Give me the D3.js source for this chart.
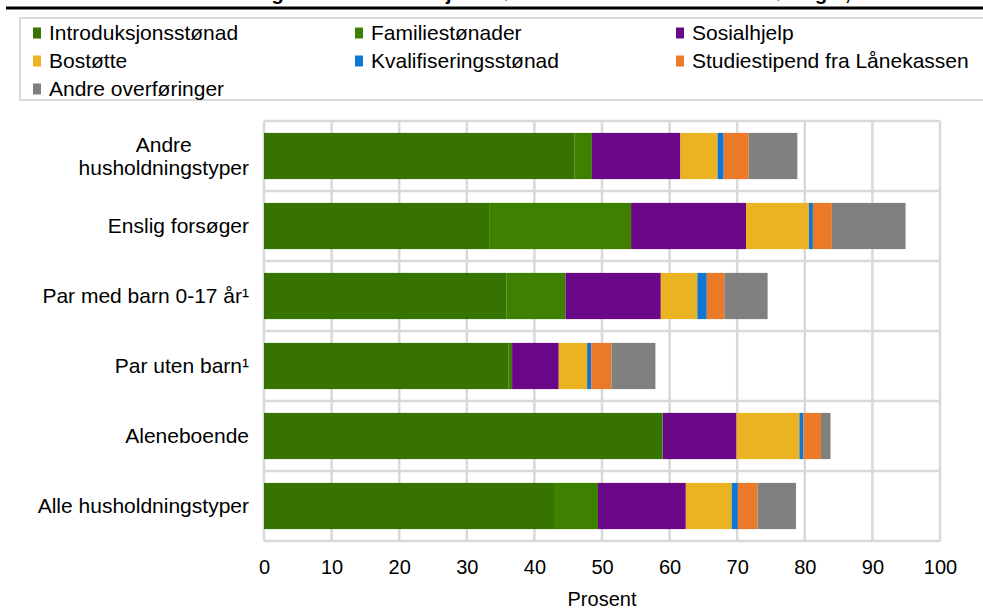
<!DOCTYPE html>
<html>
<head>
<meta charset="utf-8">
<script src="https://cdn.jsdelivr.net/npm/d3@7"></script>
<style>
body { margin: 0; background: #fff; }
svg { display: block; font-family: "Liberation Sans", Arial, sans-serif; }
</style>
</head>
<body>
<svg id="chart" width="983" height="610"></svg>
<script>
const categories = ["Andre\nhusholdningstyper", "Enslig forsøger", "Par med barn 0-17 år¹", "Par uten barn¹", "Aleneboende", "Alle husholdningstyper"];
const seriesNames = ["Introduksjonsstønad", "Familiestønader", "Sosialhjelp", "Bostøtte", "Kvalifiseringsstønad", "Studiestipend fra Lånekassen", "Andre overføringer"];
const seriesColors = ["#377300", "#3e8000", "#690787", "#ebb221", "#0f77d3", "#eb7a28", "#808080"];
const introduksjonsstonad = [45.9, 33.3, 35.9, 36.2, 58.9, 42.9];
const familiestonader     = [2.6, 21.0, 8.7, 0.5, 0.1, 6.5];
const sosialhjelp         = [13.1, 17.0, 14.1, 6.9, 10.9, 13.0];
const bostotte            = [5.5, 9.3, 5.4, 4.2, 9.3, 6.8];
const kvalifisering       = [0.9, 0.6, 1.4, 0.6, 0.6, 0.9];
const studiestipend       = [3.7, 2.8, 2.6, 3.0, 2.6, 2.9];
const andreOverforinger   = [7.2, 10.9, 6.4, 6.5, 1.4, 5.7];
const xTicks = [0, 10, 20, 30, 40, 50, 60, 70, 80, 90, 100];
const axisTitle = "Prosent";
const titleText = "Andel husholdninger med introduksjonsstønad som mottok ulike overføringer, etter husholdningstype";

const seriesValues = [introduksjonsstonad, familiestonader, sosialhjelp, bostotte, kvalifisering, studiestipend, andreOverforinger];
const rows = categories.map((c, i) => {
  const r = { cat: c };
  seriesNames.forEach((s, j) => r[s] = seriesValues[j][i]);
  return r;
});
const stacked = d3.stack().keys(seriesNames)(rows);

const svg = d3.select("#chart");
const x = d3.scaleLinear().domain([0, 100]).range([264, 940]);
const y = d3.scaleBand().domain(categories).range([121, 541]).paddingInner(0.34).paddingOuter(0.17);
const color = d3.scaleOrdinal().domain(seriesNames).range(seriesColors);

// clipped title (only descenders visible, as in the reference) and rule
svg.append("text").attr("x", 590).attr("y", -0.5).attr("text-anchor", "middle")
  .attr("font-size", 20).attr("font-weight", "bold").attr("fill", "#000").text(titleText);
svg.append("line").attr("x1", 6).attr("x2", 983).attr("y1", 8).attr("y2", 8)
  .attr("stroke", "#000").attr("stroke-width", 3);

// legend box
svg.append("rect").attr("x", 20).attr("y", 18).attr("width", 990).attr("height", 82)
  .attr("fill", "none").attr("stroke", "#d9d9d9").attr("stroke-width", 2);
const legendCols = [33, 355, 676];
const legendRows = [33, 61, 89];
const lg = svg.append("g").selectAll("g").data(seriesNames).join("g")
  .attr("transform", (d, i) => `translate(${legendCols[i % 3]},${legendRows[Math.floor(i / 3)]})`);
lg.append("rect").attr("x", 0).attr("y", -5.5).attr("width", 8).attr("height", 11).attr("fill", d => color(d));
lg.append("text").attr("x", 16).attr("y", 0).attr("dy", "0.35em").attr("font-size", 21)
  .attr("fill", "#000").text(d => d);

// gridlines
const grid = svg.append("g");
grid.selectAll("line.v").data(xTicks).join("line").attr("class", "v")
  .attr("x1", d => x(d)).attr("x2", d => x(d)).attr("y1", 121).attr("y2", 541)
  .attr("stroke", "#d9d9d9").attr("stroke-width", 2.5);
const bounds = categories.map(c => y(c) - y.step() * y.paddingOuter()).concat([541]);
grid.selectAll("line.h").data(bounds).join("line").attr("class", "h")
  .attr("x1", x(0)).attr("x2", x(100)).attr("y1", d => d).attr("y2", d => d)
  .attr("stroke", "#d9d9d9").attr("stroke-width", 2.5);

// bars
svg.append("g").selectAll("g").data(stacked).join("g")
  .attr("fill", d => color(d.key))
  .selectAll("rect").data(d => d).join("rect")
  .attr("x", d => x(d[0])).attr("width", d => Math.max(0, x(d[1]) - x(d[0])))
  .attr("y", d => y(d.data.cat)).attr("height", y.bandwidth());

// x axis labels
const xAxis = svg.append("g").attr("transform", "translate(0,567)")
  .call(d3.axisBottom(x).tickValues(xTicks).tickSize(0).tickPadding(0));
xAxis.select(".domain").remove();
xAxis.selectAll("text").attr("font-size", 20).attr("fill", "#000")
  .attr("font-family", "Liberation Sans, Arial, sans-serif").attr("dy", "0.35em").attr("y", 0);
svg.append("text").attr("x", (x(0) + x(100)) / 2).attr("y", 599).attr("dy", "0.35em")
  .attr("text-anchor", "middle").attr("font-size", 20).attr("fill", "#000").text(axisTitle);

// category labels
const labelRight = 249;
const lineH = 23;
categories.forEach(c => {
  const lines = c.split("\n");
  const cy = y(c) + y.bandwidth() / 2;
  const t = svg.append("text").attr("font-size", 21).attr("fill", "#000");
  lines.forEach((l, i) => {
    t.append("tspan").attr("y", cy + (i - (lines.length - 1) / 2) * lineH).attr("dy", "0.35em").text(l);
  });
  if (lines.length > 1) {
    let maxW = 0;
    t.selectAll("tspan").each(function () { maxW = Math.max(maxW, this.getComputedTextLength()); });
    t.attr("text-anchor", "middle").selectAll("tspan").attr("x", labelRight - maxW / 2);
  } else {
    t.attr("text-anchor", "end").selectAll("tspan").attr("x", labelRight);
  }
});
</script>
</body>
</html>
